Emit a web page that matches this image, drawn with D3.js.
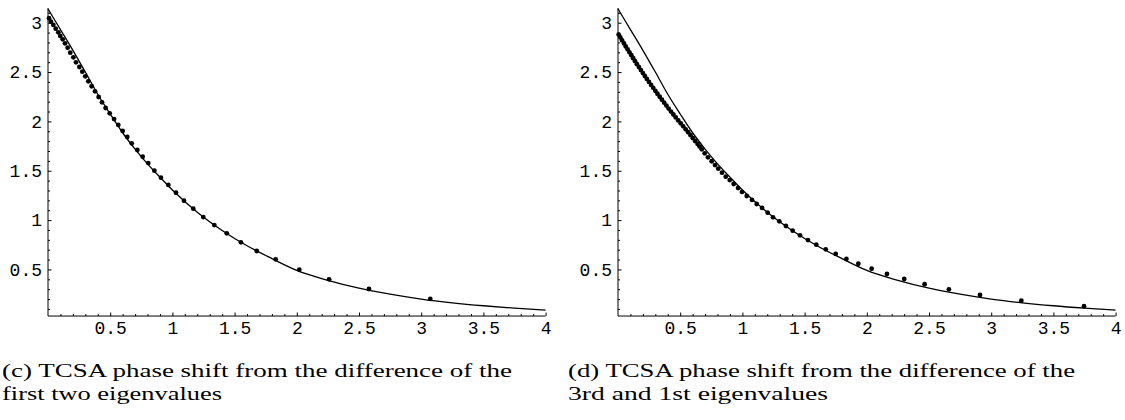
<!DOCTYPE html>
<html>
<head>
<meta charset="utf-8">
<script src="https://cdn.jsdelivr.net/npm/d3@7"></script>
<style>
	body { margin: 0; background: white; }
	.tick text { font-family: "Liberation Mono", monospace; font-size: 18px; fill: #000; }
	.caption { font-family: "Liberation Serif", serif; font-size: 19px; fill: #000; }
</style>
</head>
<body>
<div id="svg"></div>
<script>
// theory curve (same in both panels)
var curveX = [0, 0.1, 0.2, 0.3, 0.4, 0.5, 0.6, 0.7, 0.8, 0.9, 1.0, 1.2, 1.4, 1.6, 1.8, 2.0, 2.25, 2.5, 2.75, 3.0, 3.25, 3.5, 3.75, 4.0];
var curveY = [3.14, 2.93, 2.72, 2.50, 2.275, 2.075, 1.885, 1.72, 1.57, 1.435, 1.305, 1.08, 0.895, 0.74, 0.61, 0.49, 0.39, 0.31, 0.25, 0.20, 0.162, 0.132, 0.108, 0.088];

// (c) TCSA points, first two eigenvalues
var dotsCX = [0.008, 0.024, 0.043, 0.062, 0.083, 0.099, 0.118, 0.137, 0.158, 0.179, 0.204, 0.225, 0.252, 0.276, 0.300, 0.324, 0.351, 0.378, 0.407, 0.434, 0.463, 0.496, 0.531, 0.565, 0.600, 0.637,
	0.673, 0.718, 0.761, 0.806, 0.855, 0.908, 0.967, 1.029, 1.093, 1.168, 1.248, 1.337, 1.437, 1.551, 1.678, 1.830, 2.020, 2.259, 2.580, 3.073];
var dotsCY = [3.045, 3.010, 2.977, 2.939, 2.902, 2.865, 2.832, 2.791, 2.747, 2.696, 2.649, 2.599, 2.551, 2.504, 2.457, 2.406, 2.356, 2.305, 2.247, 2.193, 2.136, 2.082, 2.024, 1.964, 1.903, 1.842,
	1.778, 1.710, 1.642, 1.578, 1.501, 1.430, 1.356, 1.278, 1.197, 1.116, 1.031, 0.950, 0.866, 0.775, 0.687, 0.603, 0.497, 0.400, 0.302, 0.201];

// (d) TCSA points, 3rd and 1st eigenvalues
var dotsDX = [0.005, 0.019, 0.033, 0.048, 0.062, 0.077, 0.092, 0.107, 0.122, 0.137, 0.152, 0.168, 0.184, 0.200, 0.216, 0.232, 0.249, 0.266, 0.283, 0.300, 0.317, 0.335, 0.353, 0.371, 0.389, 0.407, 0.426, 0.445,
	0.464, 0.484, 0.504, 0.524, 0.544, 0.564, 0.583, 0.602, 0.621, 0.640, 0.656,
	0.673, 0.697, 0.723, 0.753, 0.780, 0.806, 0.836, 0.866, 0.898, 0.930, 0.965, 0.997, 1.035, 1.077, 1.115, 1.158, 1.203, 1.246, 1.297, 1.350, 1.404, 1.463, 1.527, 1.594, 1.670,
	1.750, 1.836, 1.932, 2.039, 2.162, 2.301, 2.465, 2.660, 2.910, 3.242, 3.746];
var dotsDY = [2.880, 2.850, 2.820, 2.790, 2.760, 2.730, 2.700, 2.670, 2.640, 2.610, 2.580, 2.550, 2.520, 2.490, 2.460, 2.430, 2.400, 2.370, 2.340, 2.310, 2.280, 2.250, 2.220, 2.190, 2.160, 2.130, 2.100, 2.070,
	2.040, 2.010, 1.980, 1.950, 1.920, 1.890, 1.860, 1.830, 1.800, 1.770, 1.745,
	1.717, 1.677, 1.636, 1.596, 1.558, 1.521, 1.480, 1.440, 1.406, 1.366, 1.325, 1.285, 1.244, 1.204, 1.163, 1.123, 1.075, 1.028, 0.988, 0.940, 0.893, 0.846, 0.798, 0.751, 0.704,
	0.657, 0.606, 0.558, 0.507, 0.454, 0.403, 0.350, 0.299, 0.241, 0.183, 0.127];

var xMajor = [0.5, 1, 1.5, 2, 2.5, 3, 3.5, 4];
var yMajor = [0.5, 1, 1.5, 2, 2.5, 3];
var xMinor = [0.1, 0.2, 0.3, 0.4, 0.6, 0.7, 0.8, 0.9, 1.1, 1.2, 1.3, 1.4, 1.6, 1.7, 1.8, 1.9, 2.1, 2.2, 2.3, 2.4, 2.6, 2.7, 2.8, 2.9, 3.1, 3.2, 3.3, 3.4, 3.6, 3.7, 3.8, 3.9];
var yMinor = [0.1, 0.2, 0.3, 0.4, 0.6, 0.7, 0.8, 0.9, 1.1, 1.2, 1.3, 1.4, 1.6, 1.7, 1.8, 1.9, 2.1, 2.2, 2.3, 2.4, 2.6, 2.7, 2.8, 2.9, 3.1];

var captionC = ["(c) TCSA phase shift from the difference of the", "first two eigenvalues"];
var captionD = ["(d) TCSA phase shift from the difference of the", "3rd and 1st eigenvalues"];

(function() {
	var svg = d3
		.select("#svg")
		.append("svg")
		.attr("width", 1125)
		.attr("height", 420)
		.style("background-color", "white");

	var y = d3.scaleLinear().domain([0, 3]).range([318.8, 22.7]);
	var xMin = 0, xMax = 4, yMin = 0.028, yMax = 3.148;

	var line = d3
		.line()
		.x(function(d) { return d.x; })
		.y(function(d) { return d.y; })
		.curve(d3.curveMonotoneX);

	function panel(left, dx, dy, caption, capX, capW) {
		var x = d3.scaleLinear().domain([0, 4]).range([left, left + 497.6]);
		var g = svg.append("g");

		// axes: minor ticks first, then major with labels
		g.append("g")
			.attr("transform", "translate(0," + y(yMin) + ")")
			.call(d3.axisBottom(x).tickValues(xMinor).tickSize(-2).tickFormat(""))
			.select(".domain").remove();
		var ax = g.append("g")
			.attr("transform", "translate(0," + y(yMin) + ")")
			.call(d3.axisBottom(x).tickValues(xMajor).tickSize(-3.5).tickPadding(5).tickFormat(d3.format("")));
		ax.select(".domain").remove();
		ax.selectAll(".tick text").attr("dy", "0.71em");

		g.append("g")
			.attr("transform", "translate(" + x(xMin) + ",0)")
			.call(d3.axisLeft(y).tickValues(yMinor).tickSize(-2).tickFormat(""))
			.select(".domain").remove();
		var ay = g.append("g")
			.attr("transform", "translate(" + x(xMin) + ",0)")
			.call(d3.axisLeft(y).tickValues(yMajor).tickSize(-3.5).tickPadding(6).tickFormat(d3.format("")));
		ay.select(".domain").remove();

		g.selectAll(".tick line").attr("stroke", "#000").attr("stroke-width", 1);

		// axis lines
		g.append("line")
			.attr("x1", x(xMin)).attr("x2", x(xMax))
			.attr("y1", y(yMin)).attr("y2", y(yMin))
			.attr("stroke", "#000").attr("stroke-width", 1);
		g.append("line")
			.attr("x1", x(xMin)).attr("x2", x(xMin))
			.attr("y1", y(yMin)).attr("y2", y(yMax))
			.attr("stroke", "#000").attr("stroke-width", 1);

		var pts = curveX.map(function(v, i) { return { x: x(v), y: y(curveY[i]) }; });
		g.append("path")
			.datum(pts)
			.attr("fill", "none")
			.attr("stroke", "#000")
			.attr("stroke-width", 1.3)
			.attr("d", line);

		g.selectAll("circle.dot")
			.data(dx)
			.enter()
			.append("circle")
			.attr("class", "dot")
			.attr("cx", function(d) { return x(d); })
			.attr("cy", function(d, i) { return y(dy[i]); })
			.attr("r", 2.4)
			.attr("fill", "#000");

		g.selectAll("text.caption")
			.data(caption)
			.enter()
			.append("text")
			.attr("class", "caption")
			.attr("x", capX)
			.attr("y", function(d, i) { return 376.7 + i * 23.3; })
			.attr("textLength", function(d, i) { return capW[i]; })
			.attr("lengthAdjust", "spacingAndGlyphs")
			.text(function(d) { return d; });
	}

	panel(48, dotsCX, dotsCY, captionC, 2, [510, 220]);
	panel(618, dotsDX, dotsDY, captionD, 568, [507, 260]);
})();
</script>
</body>
</html>
